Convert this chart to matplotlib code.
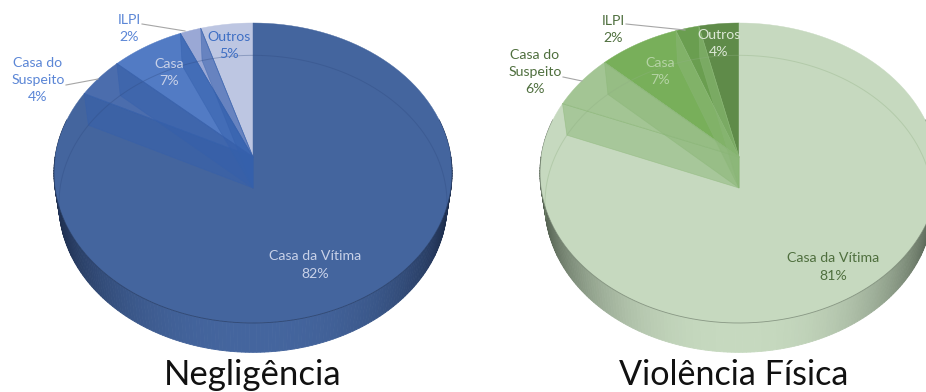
import numpy as np
from matplotlib import pyplot as plt
from matplotlib.colors import to_rgb

plt.rcParams['font.family'] = ['Lato', 'DejaVu Sans']

# Shares, going counterclockwise from the top
labels_a = ['Outros', 'ILPI', 'Casa', 'Casa do\nSuspeito', 'Casa da Vítima']
neglig = [4.7, 1.9, 6.6, 4.4, 82.4]
violencia = [3.6, 2.1, 7.3, 5.9, 81.1]
neglig_pct = ['5%', '2%', '7%', '4%', '82%']
violencia_pct = ['4%', '2%', '7%', '6%', '81%']

neglig_colors = ['#BDC6E2', '#9AA8D5', '#527BC4', '#4B6DAD', '#44659E']
violencia_colors = ['#5F8B49', '#6A9E50', '#78AF5A', '#A3C594', '#C6D9BF']

CY = 157
DEPTH = 31
RX = 197.9
RY = 148.3
K = 0.1066


def project(cx, theta, r=1.0, low=False):
    s = np.sin(theta)
    w = 1 + K * s
    x = r * RX * np.cos(theta) / w
    y = r * RY * s / w
    if low:
        return cx + 0.975 * x, CY + DEPTH - 0.99 * y
    return cx + x, CY - y


def mix(a, b, t):
    a, b = np.array(to_rgb(a)), np.array(to_rgb(b))
    return tuple(a + (b - a) * t)


def draw_pie(ax, cx, values, colors, wall, rim_dark, line):
    # outer wall, dark towards the sides
    thetas = np.radians(np.linspace(165, 375, 211))
    for t0, t1 in zip(thetas[:-1], thetas[1:]):
        x0, y0 = project(cx, t0)
        x1, y1 = project(cx, t1)
        x2, y2 = project(cx, t1, low=True)
        x3, y3 = project(cx, t0, low=True)
        c = mix(colors[-1], rim_dark, abs(np.cos((t0 + t1) / 2)) ** 2.5)
        ax.fill([x0, x1, x2, x3], [y0, y1, y2, y3], color=c, lw=0.6)

    # far edge of the base shows through
    edges = 90 + np.cumsum([0] + list(values)) * 3.6
    arc = np.radians(np.linspace(-12, 192, 200))
    ax_x, ax_y = project(cx, arc, low=True)

    for i, v in enumerate(values):
        t = np.radians(np.linspace(edges[i], edges[i + 1], 120))
        x, y = project(cx, t)
        ax.fill(np.r_[cx, x], np.r_[CY, y], color=colors[i], lw=0.3)

    ax.plot(ax_x, ax_y, color=line, lw=0.7, alpha=0.35)
    front = np.radians(np.linspace(180, 360, 200))
    fx, fy = project(cx, front)
    ax.plot(fx, fy, color=rim_dark, lw=0.6, alpha=0.5)

    # inner walls seen through the glassy slices
    for e in np.radians(edges[1:-1][::-1]):
        tx, ty = project(cx, e)
        bx, by = project(cx, e, low=True)
        ax.fill([tx, bx, cx, cx], [ty, by, CY + DEPTH, CY], color=wall,
                alpha=0.5, lw=0.5)
        ax.plot([tx, cx], [ty, CY], color=wall, lw=0.5, alpha=0.7)


fig = plt.figure(figsize=(9.26, 3.92), dpi=100)
ax = fig.add_axes([0, 0, 1, 1])
ax.set_xlim(0, 926)
ax.set_ylim(392, 0)
ax.axis('off')

draw_pie(ax, 253, neglig, neglig_colors, '#3560AC', '#1B2A47', '#2F4A80')
draw_pie(ax, 739, violencia, violencia_colors, '#8AB676', '#4A5648', '#8FAF82')

# leader lines
ax.plot([142, 185], [24, 31], color='#A6A6A6', lw=0.8)
ax.plot([66, 98], [85, 79], color='#A6A6A6', lw=0.8)
ax.plot([626, 685], [24, 30], color='#A6A6A6', lw=0.8)
ax.plot([563, 582], [77, 81], color='#A6A6A6', lw=0.8)

FS = 10.2
blue = '#5B86D6'
pale = '#C8D1E8'
green = '#4F6F3E'

spots_a = [(229, 45, '#3F6FC4'), (129, 28, blue), (169, 72, pale),
           (38, 80, blue), (315, 265, pale)]
for i, (x, y, c) in enumerate(spots_a):
    name = labels_a[i]
    ax.text(x, y, name + '\n' + neglig_pct[i], color=c, fontsize=FS,
            ha='center', va='center', linespacing=1.5)

spots_b = [(719, 43, '#DCE8D6'), (613, 29, green), (660, 71, '#B5D3A5'),
           (535, 72, green), (833, 267, green)]
for i, (x, y, c) in enumerate(spots_b):
    ax.text(x, y, labels_a[i] + '\n' + violencia_pct[i], color=c, fontsize=FS,
            ha='center', va='center', linespacing=1.5)

ax.text(253, 385, 'Negligência', fontsize=25, ha='center', va='baseline', color='#111111')
ax.text(734, 385, 'Violência Física', fontsize=24.6, ha='center', va='baseline', color='#111111')

plt.savefig('out.png', dpi=100)
